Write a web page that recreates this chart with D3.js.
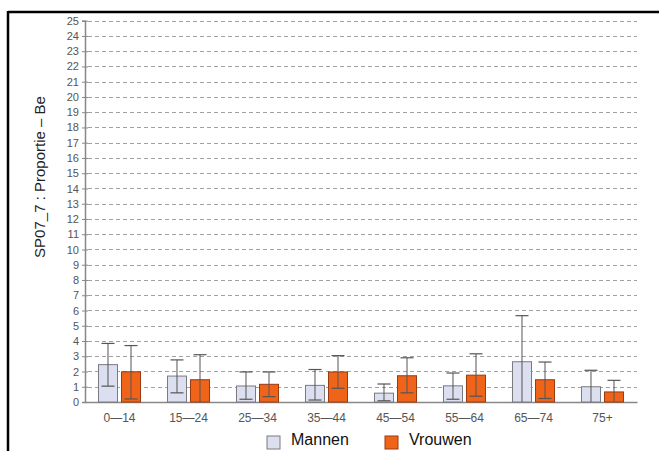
<!DOCTYPE html>
<html>
<head>
<meta charset="utf-8">
<script src="https://cdn.jsdelivr.net/npm/d3@7"></script>
<style>
  html, body { margin: 0; padding: 0; background: #fff; }
  svg { display: block; }
</style>
</head>
<body>
<svg id="chart" width="659" height="451"></svg>
<script>
const categories = ["0—14", "15—24", "25—34", "35—44", "45—54", "55—64", "65—74", "75+"];
const seriesNames = ["Mannen", "Vrouwen"];
const mannen      = [2.45, 1.70, 1.05, 1.09, 0.58, 1.06, 2.64, 1.00];
const mannenLow   = [1.04, 0.60, 0.18, 0.13, 0.08, 0.18, 0.00, 0.00];
const mannenHigh  = [3.84, 2.76, 1.97, 2.13, 1.18, 1.90, 5.66, 2.08];
const vrouwen     = [1.98, 1.46, 1.16, 1.97, 1.72, 1.76, 1.46, 0.66];
const vrouwenLow  = [0.20, 0.00, 0.35, 0.90, 0.60, 0.38, 0.23, 0.00];
const vrouwenHigh = [3.70, 3.10, 1.97, 3.04, 2.90, 3.16, 2.62, 1.42];
const yTicks = d3.range(0, 26);
const yTitle = "SP07_7 : Proportie – Be";

const svg = d3.select("#chart");
const plotLeft = 85, plotRight = 637, plotTop = 20.7, plotBottom = 402;

const x0 = d3.scaleBand().domain(categories).range([plotLeft, plotRight])
  .paddingInner(0.391).paddingOuter(0.1955);
const x1 = d3.scaleBand().domain(seriesNames).range([0, x0.bandwidth()]).paddingInner(0.174);
const y = d3.scaleLinear().domain([0, 25]).range([plotBottom, plotTop]);

const colors = { Mannen: { fill: "#dcdff0", stroke: "#7a7a80" }, Vrouwen: { fill: "#f0641a", stroke: "#9a3a10" } };

// frame
svg.append("line").attr("x1", 8).attr("x2", 659).attr("y1", 12).attr("y2", 12)
  .attr("stroke", "#000").attr("stroke-width", 2.5);
svg.append("line").attr("x1", 8).attr("x2", 8).attr("y1", 11).attr("y2", 451)
  .attr("stroke", "#000").attr("stroke-width", 2.5);

// grid
svg.append("g").selectAll("line").data(yTicks.filter(d => d > 0)).join("line")
  .attr("x1", plotLeft + 3).attr("x2", plotRight)
  .attr("y1", d => Math.round(y(d)) + 0.5).attr("y2", d => Math.round(y(d)) + 0.5)
  .attr("stroke", "#a0a0a0").attr("stroke-width", 1).attr("stroke-dasharray", "4,3");

// y axis
const yAxis = d3.axisLeft(y).tickValues(yTicks).tickSize(3).tickPadding(3).tickFormat(d3.format("d"));
const gy = svg.append("g").attr("transform", `translate(${plotLeft},0)`).call(yAxis);
gy.select(".domain").attr("stroke", "#888").attr("stroke-width", 1.5);
gy.selectAll(".tick line").attr("stroke", "#888").attr("x2", 3).attr("x1", -3);
gy.selectAll(".tick text").attr("fill", "#555").style("font-family", "Liberation Sans, Arial, sans-serif")
  .style("font-size", "11px").attr("x", -6);

// x axis
const xAxis = d3.axisBottom(x0).tickSize(0).tickPadding(11);
const gx = svg.append("g").attr("transform", `translate(0,${plotBottom})`).call(xAxis);
gx.select(".domain").attr("stroke", "#888").attr("stroke-width", 1.5);
gx.selectAll(".tick text").attr("fill", "#555").style("font-family", "Liberation Sans, Arial, sans-serif")
  .style("font-size", "12px");

// data rows
const rows = categories.map((c, i) => ({
  cat: c,
  vals: [
    { s: "Mannen", v: mannen[i], lo: mannenLow[i], hi: mannenHigh[i] },
    { s: "Vrouwen", v: vrouwen[i], lo: vrouwenLow[i], hi: vrouwenHigh[i] }
  ]
}));

const groups = svg.append("g").selectAll("g").data(rows).join("g")
  .attr("transform", d => `translate(${x0(d.cat)},0)`);

groups.selectAll("rect").data(d => d.vals).join("rect")
  .attr("x", d => x1(d.s)).attr("width", x1.bandwidth())
  .attr("y", d => y(d.v)).attr("height", d => y(0) - y(d.v))
  .attr("fill", d => colors[d.s].fill).attr("stroke", d => colors[d.s].stroke).attr("stroke-width", 1);

const capW = 6.5;
const eb = groups.selectAll("g.eb").data(d => d.vals).join("g").attr("class", "eb");
eb.append("line")
  .attr("x1", d => x1(d.s) + x1.bandwidth() / 2).attr("x2", d => x1(d.s) + x1.bandwidth() / 2)
  .attr("y1", d => y(d.lo)).attr("y2", d => y(d.hi)).attr("stroke", "#555").attr("stroke-width", 1);
eb.append("line")
  .attr("x1", d => x1(d.s) + x1.bandwidth() / 2 - capW).attr("x2", d => x1(d.s) + x1.bandwidth() / 2 + capW)
  .attr("y1", d => y(d.hi)).attr("y2", d => y(d.hi)).attr("stroke", "#555").attr("stroke-width", 1.2);
eb.filter(d => d.lo > 0.01).append("line")
  .attr("x1", d => x1(d.s) + x1.bandwidth() / 2 - capW).attr("x2", d => x1(d.s) + x1.bandwidth() / 2 + capW)
  .attr("y1", d => y(d.lo)).attr("y2", d => y(d.lo)).attr("stroke", "#555").attr("stroke-width", 1.2);

// y title
svg.append("text").attr("transform", "translate(45,177) rotate(-90)")
  .attr("text-anchor", "middle").attr("fill", "#222")
  .style("font-family", "Liberation Sans, Arial, sans-serif").style("font-size", "15px")
  .text(yTitle);

// legend
const legendX = [267, 385];
const lg = svg.append("g").selectAll("g").data(seriesNames).join("g")
  .attr("transform", (d, i) => `translate(${legendX[i]},436)`);
lg.append("rect").attr("width", 13).attr("height", 13)
  .attr("fill", d => colors[d].fill).attr("stroke", d => colors[d].stroke);
lg.append("text").attr("x", 24).attr("y", 8.5).attr("fill", "#111")
  .style("font-family", "Liberation Sans, Arial, sans-serif").style("font-size", "16px")
  .text(d => d);
</script>
</body>
</html>
